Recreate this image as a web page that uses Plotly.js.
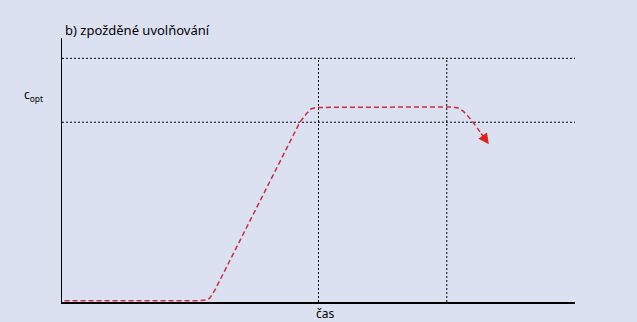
<!DOCTYPE html>
<html>
<head>
<meta charset="utf-8">
<script src="https://cdn.plot.ly/plotly-3.0.1.min.js"></script>
<style>html,body{margin:0;padding:0;background:#dce1f2;}#chart{width:637px;height:322px;}</style>
</head>
<body>
<div id="chart"></div>
<script>
// Curve (delayed release), time vs concentration
const curveX = [0.05, 2.69, 2.83, 2.88, 2.98, 4.64, 4.76, 4.85, 4.95, 7.60, 7.72, 7.82, 7.91, 8.01, 8.15];
const curveY = [0.05, 0.05, 0.08, 0.15, 0.45, 6.82, 7.12, 7.31, 7.37, 7.39, 7.35, 7.23, 7.05, 6.82, 6.44];
// arrow head (tail -> tip)
const arrowTail = [8.15, 6.44];
const arrowTip = [8.32, 5.98];
// reference lines
const hLevels = [9.23, 6.81];
const vTimes = [5.0, 7.5];
const xRange = [0, 10];
const yRange = [0, 10];
const titleText = 'b) zpožděné uvolňování';
const xLabel = 'čas';
const yLabel = 'c<sub>opt</sub>';

const traces = [];
hLevels.forEach(h => traces.push({
  x: [xRange[0], xRange[1]], y: [h, h], mode: 'lines', hoverinfo: 'skip',
  line: {color: '#000', width: 1, dash: '2px,2px'}
}));
vTimes.forEach(t => traces.push({
  x: [t, t], y: [yRange[0], hLevels[0]], mode: 'lines', hoverinfo: 'skip',
  line: {color: '#000', width: 1, dash: '2px,2px'}
}));
traces.push({
  x: curveX, y: curveY, mode: 'lines', line: {color: '#cc2c44', width: 1.5, dash: '5px,3px', shape: 'linear'}
});

const layout = {
  width: 637, height: 322,
  paper_bgcolor: '#dce1f2', plot_bgcolor: '#dce1f2',
  margin: {l: 62, r: 62, t: 38, b: 20},
  showlegend: false,
  font: {family: 'Noto Sans, sans-serif', color: '#000'},
  title: {text: titleText, font: {size: 13, color: '#000'}, xref: 'paper', x: 0.006, xanchor: 'left', yref: 'container', y: 0.905, yanchor: 'middle'},
  xaxis: {range: xRange, showline: true, linecolor: '#000', linewidth: 1.5, showgrid: false, zeroline: false, showticklabels: false, ticks: '', fixedrange: true},
  yaxis: {range: yRange, showline: true, linecolor: '#000', linewidth: 1.5, showgrid: false, zeroline: false, showticklabels: false, ticks: '', fixedrange: true},
  annotations: [
    {xref: 'paper', yref: 'paper', x: -0.078, y: 0.784, xanchor: 'left', yanchor: 'middle', text: yLabel, showarrow: false, font: {size: 12, color: '#000'}},
    {xref: 'paper', yref: 'paper', x: 0.513, y: -0.042, xanchor: 'center', yanchor: 'middle', text: xLabel, showarrow: false, font: {size: 12, color: '#000'}},
    {x: arrowTip[0], y: arrowTip[1], ax: arrowTail[0], ay: arrowTail[1], axref: 'x', ayref: 'y', xref: 'x', yref: 'y', text: '', showarrow: true,
     arrowhead: 2, arrowsize: 1.4, arrowwidth: 1.5, arrowcolor: '#e0201c', standoff: 0}
  ]
};
Plotly.newPlot('chart', traces, layout, {displayModeBar: false, staticPlot: true});
</script>
</body>
</html>
